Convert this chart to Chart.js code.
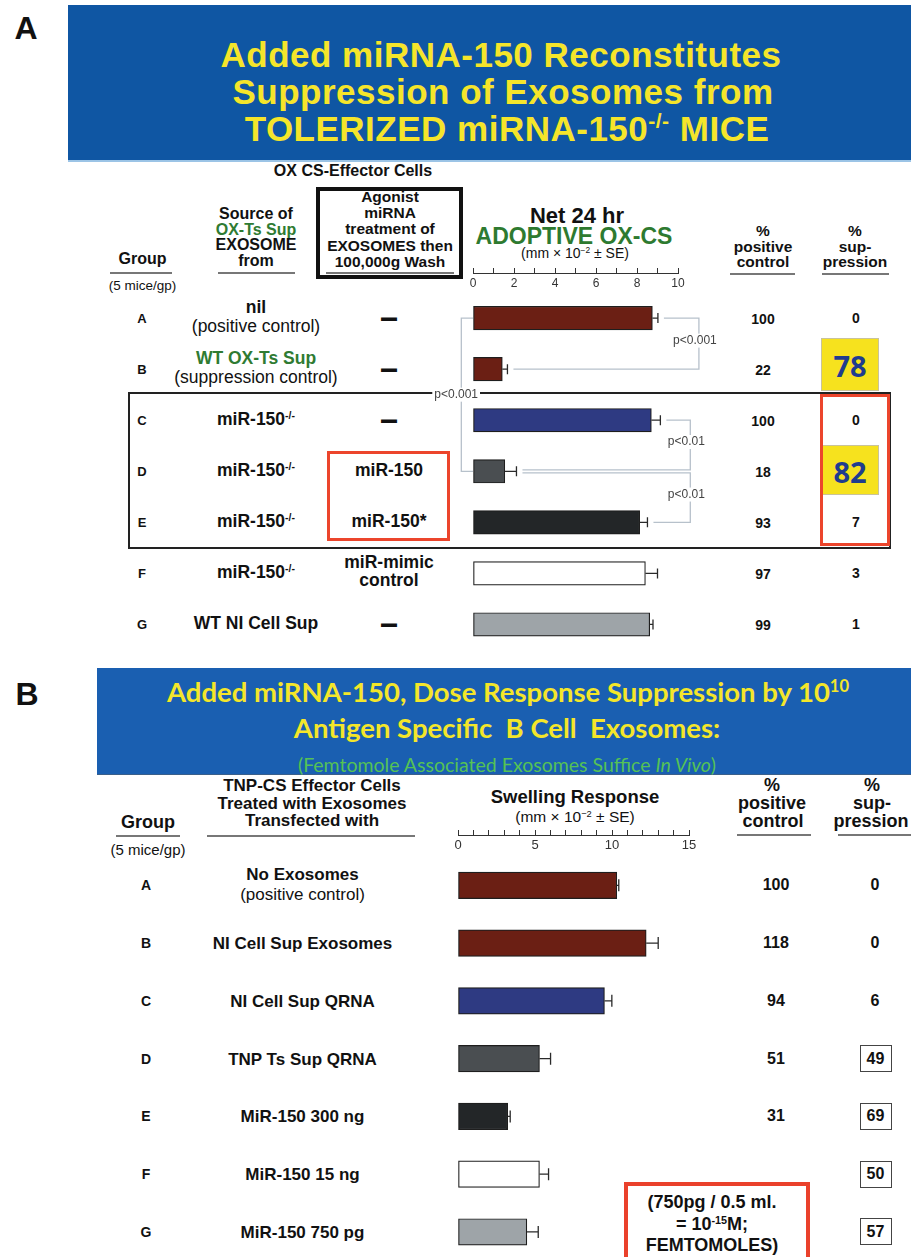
<!DOCTYPE html>
<html>
<head>
<meta charset="utf-8">
<script src="https://cdn.jsdelivr.net/npm/chart.js@4.4.0/dist/chart.umd.min.js"></script>
<style>
body { margin:0; width:911px; height:1257px; overflow:hidden; background:#fff; position:relative;
       font-family:"Liberation Sans", Arial, sans-serif; color:#111; }
.t { position:absolute; transform:translate(-50%,-50%); white-space:pre; line-height:1; }
.r { position:absolute; box-sizing:border-box; }
sup { font-size:0.6em; vertical-align:0.6em; line-height:0; }
canvas { position:absolute; z-index:5; }
</style>
</head>
<body>
<canvas id="chartA" width="296" height="400" style="left:425px;top:255px;"></canvas>
<canvas id="chartB" width="270" height="445" style="left:440px;top:817px;"></canvas>
<script>
// ---- data, panel A (OX-CS, mm x 10^-2) ----
var groups = ['A', 'B', 'C', 'D', 'E', 'F', 'G'];
var oxcsMean = [8.75, 1.43, 8.70, 1.55, 8.13, 8.41, 8.62];
var oxcsSE = [0.27, 0.25, 0.44, 0.57, 0.38, 0.59, 0.16];
var oxcsColors = ['#6b1f14', '#6b1f14', '#2e3a82', '#4a4e51', '#232628', '#ffffff', '#9ea4a8'];
var sourceA = ['nil|(positive control)', 'WT OX-Ts Sup|(suppression control)', 'miR-150<sup>-/-</sup>',
               'miR-150<sup>-/-</sup>', 'miR-150<sup>-/-</sup>', 'miR-150<sup>-/-</sup>', 'WT NI Cell Sup'];
var treatmentA = ['—', '—', '—', 'miR-150', 'miR-150*', 'miR-mimic|control', '—'];
var posCtrlA = [100, 22, 100, 18, 93, 97, 99];
var suppA = [0, 78, 0, 82, 7, 3, 1];
var highlightA = [false, true, false, true, false, false, false];
var bracketsA = [
    { from: 0, to: 1, x: 11.02, side: 'right', label: 'p<0.001' },
    { from: 2, to: 3, x: 10.6, side: 'right', label: 'p<0.01', dy2: -1.5 },
    { from: 3, to: 4, x: 10.6, side: 'right', label: 'p<0.01', dy1: 1.5 },
    { from: 0, to: 3, x: -0.57, side: 'left', label: 'p<0.001' }
];

// ---- data, panel B (TNP-CS swelling, mm x 10^-2) ----
var tnpMean = [10.31, 12.22, 9.51, 5.29, 3.23, 5.29, 4.47];
var tnpSE = [0.13, 0.78, 0.48, 0.72, 0.16, 0.59, 0.74];
var tnpColors = ['#6b1f14', '#6b1f14', '#2e3a82', '#4a4e51', '#232628', '#ffffff', '#9ea4a8'];
var treatedB = ['No Exosomes|(positive control)', 'NI Cell Sup Exosomes', 'NI Cell Sup QRNA', 'TNP Ts Sup QRNA',
                'MiR-150 300 ng', 'MiR-150 15 ng', 'MiR-150 750 pg'];
var posCtrlB = [100, 118, 94, 51, 31, null, null];
var suppB = [0, 0, 6, 49, 69, 50, 57];
var boxedB = [false, false, false, true, true, true, true];

function put(x, y, html, css) {
    var d = document.createElement('div');
    d.className = 't';
    d.style.left = x + 'px';
    d.style.top = y + 'px';
    if (css) d.style.cssText += css;
    d.innerHTML = html;
    document.body.appendChild(d);
    return d;
}
function rect(x, y, w, h, css) {
    var d = document.createElement('div');
    d.className = 'r';
    d.style.cssText += 'left:' + x + 'px;top:' + y + 'px;width:' + w + 'px;height:' + h + 'px;' + css;
    document.body.appendChild(d);
    return d;
}

function errorBars(values, se, cap, brackets) {
    return {
        id: 'errbars',
        afterDatasetsDraw: function (chart) {
            var ctx = chart.ctx, xs = chart.scales.x, meta = chart.getDatasetMeta(0);
            ctx.save();
            (brackets || []).forEach(function (b) {
                var xv = xs.getPixelForValue(b.x);
                var y1 = meta.data[b.from].y + (b.dy1 || 0);
                var y2 = meta.data[b.to].y + (b.dy2 || 0);
                var s1, s2;
                if (b.side === 'right') {
                    s1 = xs.getPixelForValue(values[b.from] + se[b.from]) + 6;
                    s2 = xs.getPixelForValue(values[b.to] + se[b.to]) + 6;
                } else {
                    s1 = s2 = xs.getPixelForValue(0);
                }
                ctx.strokeStyle = '#b7c1cb';
                ctx.lineWidth = 1.3;
                ctx.beginPath();
                ctx.moveTo(s1, y1); ctx.lineTo(xv, y1); ctx.lineTo(xv, y2); ctx.lineTo(s2, y2);
                ctx.stroke();
                ctx.font = '12px "Liberation Sans", Arial, sans-serif';
                ctx.textBaseline = 'middle';
                var w = ctx.measureText(b.label).width;
                var lx, ly;
                if (b.side === 'right') {
                    lx = xv - w / 2 - 4;
                    ly = (y1 + y2) / 2 - 3;
                } else {
                    lx = xs.getPixelForValue(0) + 5 - w;
                    ly = (meta.data[1].y + meta.data[2].y) / 2;
                }
                ctx.fillStyle = '#fff';
                ctx.fillRect(lx - 2, ly - 7, w + 4, 14);
                ctx.fillStyle = '#444';
                ctx.textAlign = 'left';
                ctx.fillText(b.label, lx, ly);
            });
            ctx.strokeStyle = '#2a2a2a';
            ctx.lineWidth = 1.3;
            meta.data.forEach(function (bar, i) {
                var end = xs.getPixelForValue(values[i] + se[i]);
                ctx.beginPath();
                ctx.moveTo(bar.x, bar.y); ctx.lineTo(end, bar.y);
                ctx.moveTo(end, bar.y - cap); ctx.lineTo(end, bar.y + cap);
                ctx.stroke();
            });
            ctx.restore();
        }
    };
}

function makeChart(id, o) {
    return new Chart(document.getElementById(id), {
        type: 'bar',
        data: {
            labels: groups,
            datasets: [{
                data: o.values.map(function (v, i) { return { x: v, y: i }; }),
                backgroundColor: o.colors,
                borderColor: '#1e1e1e',
                borderWidth: 1.2,
                borderSkipped: false,
                barThickness: o.thick
            }]
        },
        options: {
            indexAxis: 'y',
            responsive: false,
            animation: false,
            devicePixelRatio: 1,
            layout: { padding: o.pad },
            plugins: { legend: { display: false }, tooltip: { enabled: false } },
            scales: {
                x: {
                    type: 'linear', position: 'top', min: 0, max: o.xmax,
                    ticks: {
                        stepSize: 1, mirror: true, padding: 3, autoSkip: false, maxRotation: 0,
                        color: '#333', font: { size: o.tickSize, family: '"Liberation Sans", Arial' },
                        callback: function (v) { return v % o.labelEvery === 0 ? v : ''; }
                    },
                    grid: { drawOnChartArea: false, drawTicks: true, tickLength: 5, color: '#333', lineWidth: 1 },
                    border: { display: true, color: '#333', width: 1 },
                    afterFit: function (s) { s.height = 10; }
                },
                y: { type: 'linear', display: false, reverse: true, offset: false, min: o.ymin, max: o.ymax }
            }
        },
        plugins: [errorBars(o.values, o.se, o.cap, o.brackets)]
    });
}

var chartA = makeChart('chartA', {
    values: oxcsMean, se: oxcsSE, colors: oxcsColors, thick: 23.5, cap: 5,
    pad: { left: 48, right: 43, top: 8, bottom: 5 }, xmax: 10, labelEvery: 2, tickSize: 12,
    ymin: -0.883, ymax: 6.5, brackets: bracketsA
});
var chartB = makeChart('chartB', {
    values: tnpMean, se: tnpSE, colors: tnpColors, thick: 26.5, cap: 6,
    pad: { left: 18, right: 21, top: 8, bottom: 0 }, xmax: 15, labelEvery: 5, tickSize: 13,
    ymin: -0.871, ymax: 6.52, brackets: []
});

// ================= PANEL A =================
var bold16 = 'font-weight:bold;font-size:16px;';
put(26, 28, 'A', 'font-weight:bold;font-size:32px;');
rect(68, 5, 843, 157, 'background:#0f56a3;border-bottom:2px solid #9cc4e6;');
var titleA = 'color:#f5e52b;font-weight:bold;font-size:35px;letter-spacing:0.5px;';
put(501, 54, 'Added miRNA-150 Reconstitutes', titleA);
put(503, 91, 'Suppression of Exosomes from', titleA);
put(507, 128, 'TOLERIZED miRNA-150<sup>-/-</sup> MICE', titleA);

put(353, 171, 'OX CS-Effector Cells', bold16);
rect(316, 187, 147, 92, 'border:4px solid #111;');
rect(326, 272, 128, 2, 'background:#777;');
['Agonist', 'miRNA', 'treatment of', 'EXOSOMES then', '100,000g Wash'].forEach(function (s, i) {
    put(390, 197 + i * 16.2, s, 'font-weight:bold;font-size:15.5px;');
});
put(142.5, 259, 'Group', bold16);
rect(110, 272, 62, 2, 'background:#777;');
put(142.5, 286, '(5 mice/gp)', 'font-size:13.5px;');
put(256, 214, 'Source of', bold16);
put(256, 229.5, 'OX-Ts Sup', bold16 + 'color:#2f7b32;');
put(256, 245, 'EXOSOME', bold16);
put(256, 261, 'from', bold16);
rect(218, 272, 77, 2, 'background:#777;');
put(577, 216, 'Net 24 hr', 'font-weight:bold;font-size:22px;');
put(574, 236, 'ADOPTIVE OX-CS', 'font-weight:bold;font-size:23px;color:#2e7a30;');
put(575, 253, '(mm × 10<sup>−2</sup> ± SE)', 'font-size:14px;');
var hdrA = 'font-weight:bold;font-size:15.5px;';
put(763, 231, '%', hdrA); put(763, 247, 'positive', hdrA); put(763, 262, 'control', hdrA);
rect(730, 273, 65, 2, 'background:#777;');
put(855, 231, '%', hdrA); put(855, 247, 'sup-', hdrA); put(855, 262, 'pression', hdrA);
rect(822, 273, 67, 2, 'background:#777;');

// boxes around groups C-E
rect(128, 392, 763, 157, 'border:2px solid #222;');
rect(327, 451, 123, 90, 'border:3px solid #ec452c;');

var rowFont = 'font-weight:bold;font-size:17.5px;';
groups.forEach(function (g, i) {
    var y = 255 + chartA.scales.y.getPixelForValue(i);
    put(142, y, g, 'font-weight:bold;font-size:13px;');
    var src = sourceA[i].split('|');
    if (src.length > 1) {
        put(256, y - 10, src[0], rowFont + (i === 1 ? 'color:#2f7b32;' : ''));
        put(256, y + 9, src[1], 'font-size:17.5px;');
    } else {
        put(256, y, src[0], rowFont);
    }
    var tr = treatmentA[i].split('|');
    if (tr[0] === '—') {
        put(389, y, '—', 'font-weight:bold;font-size:16px;transform:translate(-50%,-50%) scale(1,2.2);');
    } else if (tr.length > 1) {
        put(389, y - 10, tr[0], rowFont);
        put(389, y + 8, tr[1], rowFont);
    } else {
        put(389, y, tr[0], rowFont);
    }
    put(763, y + 1, String(posCtrlA[i]), 'font-weight:bold;font-size:14px;');
    if (highlightA[i]) {
        rect(821, y - (i === 1 ? 31 : 26), 58, (i === 1 ? 53 : 50), 'background:#f6e21e;border:1px solid #c9c39a;');
        put(850, y - (i === 1 ? 4 : 0), String(suppA[i]), 'font-family:"Open Sans",sans-serif;font-weight:bold;font-size:29px;color:#1f3c8e;');
    } else {
        put(856, y, String(suppA[i]), 'font-weight:bold;font-size:14px;');
    }
});
// red box in % suppression column
rect(820, 394, 70, 152, 'border:3px solid #ec452c;');

// ================= PANEL B =================
put(27, 694, 'B', 'font-weight:bold;font-size:32px;');
rect(97, 668, 814, 107, 'background:#1a5fb1;border-bottom:1px solid #3a5f8a;');
var titleB = 'font-family:Lato,sans-serif;color:#f4e62a;font-weight:bold;font-size:27.5px;';
put(508, 692, 'Added miRNA-150, Dose Response Suppression by 10<sup>10</sup>', titleB);
put(507, 728, 'Antigen Specific  B Cell  Exosomes:', titleB);
put(507, 765, '(Femtomole Associated Exosomes Suffice <i>In Vivo</i>)', 'font-family:Lato,sans-serif;color:#55c255;font-size:19.5px;');

var bold17 = 'font-weight:bold;font-size:17px;';
put(312, 785, 'TNP-CS Effector Cells', bold17);
put(312, 802.5, 'Treated with Exosomes', bold17);
put(312, 820, 'Transfected with', bold17);
rect(207, 834.5, 208, 2, 'background:#777;');
put(148, 822, 'Group', 'font-weight:bold;font-size:18px;');
rect(116, 834.5, 64, 2, 'background:#777;');
put(148, 848.5, '(5 mice/gp)', 'font-size:15px;');
put(575, 797, 'Swelling Response', 'font-weight:bold;font-size:18.5px;');
put(575, 817, '(mm × 10<sup>−2</sup> ± SE)', 'font-size:15.5px;');
var hdrB = 'font-weight:bold;font-size:18px;';
put(772, 785, '%', hdrB); put(772, 802.5, 'positive', hdrB); put(773, 821, 'control', hdrB);
rect(737, 833.5, 74, 2, 'background:#777;');
put(872, 785, '%', hdrB); put(872, 802.5, 'sup-', hdrB); put(871, 821, 'pression', hdrB);
rect(838, 833.5, 73, 2, 'background:#777;');

groups.forEach(function (g, i) {
    var y = 817 + chartB.scales.y.getPixelForValue(i);
    put(146, y, g, 'font-weight:bold;font-size:14px;');
    var lab = treatedB[i].split('|');
    if (lab.length > 1) {
        put(302.5, y - 11, lab[0], bold17);
        put(302.5, y + 9, lab[1], 'font-size:17px;');
    } else {
        put(302.5, y, lab[0], bold17);
    }
    if (posCtrlB[i] !== null) put(776, y, String(posCtrlB[i]), 'font-weight:bold;font-size:16px;');
    if (boxedB[i]) {
        rect(859.5, y - 13.5, 32.5, 27, 'border:1.5px solid #444;');
        put(875.5, y, String(suppB[i]), 'font-weight:bold;font-size:16px;');
    } else {
        put(875, y, String(suppB[i]), 'font-weight:bold;font-size:16px;');
    }
});

rect(624, 1182, 186, 90, 'border:4px solid #ea412b;');
put(712, 1202, '(750pg / 0.5 ml.', 'font-weight:bold;font-size:18px;');
put(712, 1224, '= 10<sup>-15</sup>M;', 'font-weight:bold;font-size:18px;');
put(712, 1245, 'FEMTOMOLES)', 'font-weight:bold;font-size:18px;');
</script>
</body>
</html>
